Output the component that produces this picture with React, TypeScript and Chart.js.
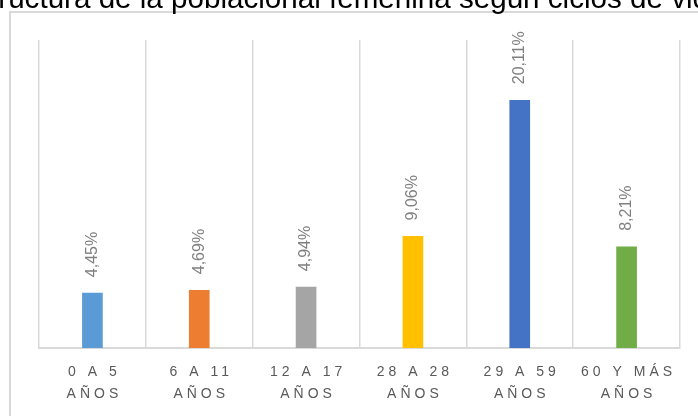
import React, { useEffect, useRef } from 'react';
import { Chart, registerables } from 'chart.js';

Chart.register(...registerables);

const TITLE = 'Estructura de la poblacional femenina según ciclos de vida';
const CATEGORY_LINES: string[][] = [
  ['0 A 5', 'AÑOS'],
  ['6 A 11', 'AÑOS'],
  ['12 A 17', 'AÑOS'],
  ['28 A 28', 'AÑOS'],
  ['29 A 59', 'AÑOS'],
  ['60 Y MÁS', 'AÑOS'],
];
const CATEGORIES = CATEGORY_LINES.map((l) => l.join(' '));
const VALUES = [4.45, 4.69, 4.94, 9.06, 20.11, 8.21];
const COLORS = ['#5B9BD5', '#ED7D31', '#A5A5A5', '#FFC000', '#4472C4', '#70AD47'];
const Y_MIN = 0;
const Y_MAX = 25;

const fmt = (v: number) => v.toFixed(2).replace('.', ',') + '%';

const decoPlugin = {
  id: 'deco',
  beforeDraw(chart: any) {
    const ctx = chart.ctx;
    ctx.save();
    ctx.fillStyle = '#ffffff';
    ctx.fillRect(0, 0, chart.width, chart.height);
    ctx.strokeStyle = '#d9d9d9';
    ctx.lineWidth = 2;
    ctx.strokeRect(10, 12, 1000, 1000);
    ctx.restore();
  },
  afterDraw(chart: any) {
    const ctx = chart.ctx;
    const xScale = chart.scales.x;
    ctx.save();
    // title (partially cropped at the top)
    ctx.fillStyle = '#000000';
    ctx.font = '29.6px "Liberation Sans", Arial, sans-serif';
    ctx.textAlign = 'center';
    ctx.textBaseline = 'alphabetic';
    ctx.fillText(TITLE, 340.5, 8);

    // category labels with letter spacing
    ctx.fillStyle = '#595959';
    ctx.font = '14px "Liberation Sans", Arial, sans-serif';
    (ctx as any).letterSpacing = '4px';
    ctx.textAlign = 'center';
    ctx.textBaseline = 'middle';
    CATEGORY_LINES.forEach((lines, i) => {
      const x = xScale.getPixelForValue(i) + 2;
      lines.forEach((line, j) => {
        ctx.fillText(line, x, 372.5 + j * 21.5);
      });
    });
    (ctx as any).letterSpacing = '0px';

    // data labels, rotated
    const meta = chart.getDatasetMeta(0);
    ctx.fillStyle = '#808080';
    ctx.font = '16px "Liberation Sans", Arial, sans-serif';
    ctx.textAlign = 'left';
    ctx.textBaseline = 'middle';
    meta.data.forEach((bar: any, i: number) => {
      ctx.save();
      ctx.translate(bar.x, bar.y - 16);
      ctx.rotate(-Math.PI / 2);
      ctx.fillText(fmt(VALUES[i]), 0, 0);
      ctx.restore();
    });
    ctx.restore();
  },
};

export default function App() {
  const ref = useRef<HTMLCanvasElement | null>(null);
  useEffect(() => {
    document.body.style.margin = '0';
    const canvas = ref.current;
    if (!canvas) return;
    const chart = new Chart(canvas, {
      type: 'bar',
      data: {
        labels: CATEGORIES,
        datasets: [
          {
            data: VALUES,
            backgroundColor: COLORS,
            barThickness: 20,
          },
        ],
      },
      options: {
        responsive: false,
        animation: false,
        devicePixelRatio: 1,
        layout: { padding: { left: 39, right: 18, top: 40, bottom: 68 } },
        plugins: {
          legend: { display: false },
          title: { display: false },
          tooltip: { enabled: false },
        },
        scales: {
          x: {
            grid: { display: true, color: '#d9d9d9', lineWidth: 1.5, drawTicks: false, offset: true },
            border: { display: true, color: '#d9d9d9', width: 2 },
            ticks: { display: false },
          },
          y: {
            display: false,
            min: Y_MIN,
            max: Y_MAX,
          },
        },
      },
      plugins: [decoPlugin],
    });
    return () => chart.destroy();
  }, []);
  return (
    <div style={{ width: 698, height: 416, overflow: 'hidden' }}>
      <canvas ref={ref} width={698} height={416} style={{ display: 'block' }} />
    </div>
  );
}
